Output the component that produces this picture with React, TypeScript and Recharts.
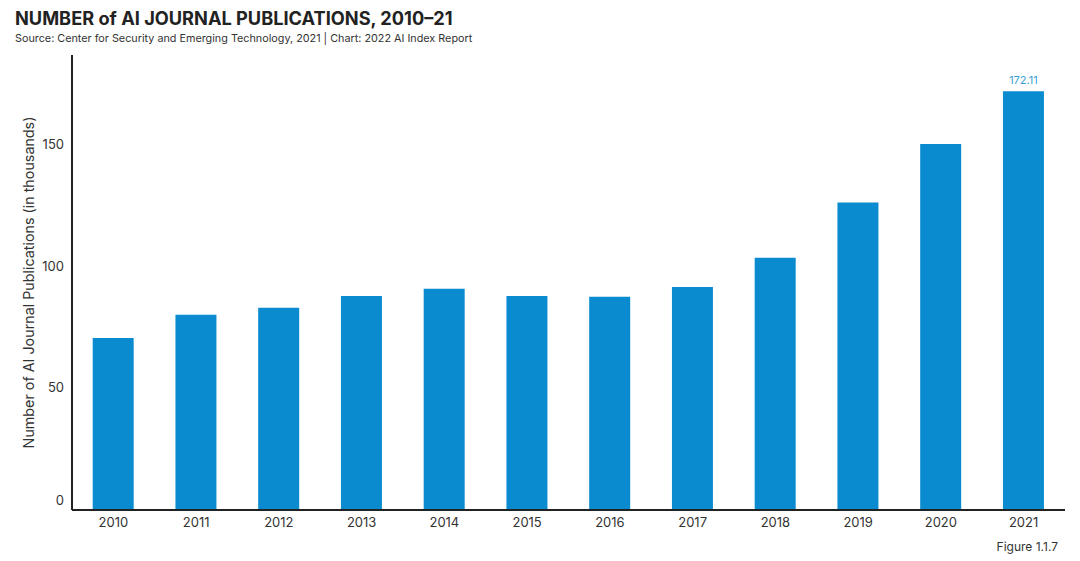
import { BarChart, Bar, XAxis, YAxis, LabelList, Label } from "recharts";

const years = ["2010", "2011", "2012", "2013", "2014", "2015", "2016", "2017", "2018", "2019", "2020", "2021"];
const publications = [70.7, 80.2, 83.1, 88.0, 90.9, 88.0, 87.6, 91.7, 103.7, 126.4, 150.4, 172.11];
const yTicks = [0, 50, 100, 150];

const data = years.map((year, i) => ({ year, value: publications[i] }));

const FONT = "Inter, 'Open Sans', sans-serif";
const BAR_COLOR = "#0a8bcf";

// the "0" label sits a bit above the baseline in the original
function YTick(props: any) {
  const { x, y, payload } = props;
  const shift = payload.value === 0 ? -9 : 0;
  return (
    <text x={x} y={y + shift} dy={4} textAnchor="end" fontSize={13} fill="#333" fontFamily={FONT}>
      {payload.value}
    </text>
  );
}

function LastLabel(props: any) {
  const { x, y, width, value, index } = props;
  if (index !== years.length - 1) return null;
  return (
    <text x={x + width / 2} y={y - 7} textAnchor="middle" fontSize={11} fill="#3a9fd8" fontFamily={FONT}>
      {value}
    </text>
  );
}

export default function App() {
  return (
    <div
      style={{
        position: "absolute",
        left: 0,
        top: 0,
        width: 1080,
        height: 561,
        background: "#fff",
        fontFamily: FONT,
      }}
    >
      <div style={{ position: "absolute", left: 15, top: 7, fontSize: 18.2, fontWeight: 700, color: "#222" }}>
        NUMBER of AI JOURNAL PUBLICATIONS, 2010–21
      </div>
      <div style={{ position: "absolute", left: 15, top: 32, fontSize: 10.8, color: "#333" }}>
        Source: Center for Security and Emerging Technology, 2021 | Chart: 2022 AI Index Report
      </div>
      <BarChart
        width={1080}
        height={561}
        data={data}
        margin={{ top: 55, right: 15, bottom: 21, left: 22 }}
        barCategoryGap="25%"
      >
        <XAxis
          dataKey="year"
          tickLine={false}
          axisLine={{ stroke: "#222", strokeWidth: 2 }}
          tick={{ fontSize: 13, fill: "#333", fontFamily: FONT }}
          tickSize={6}
          height={30}
        />
        <YAxis
          domain={[0, 187]}
          ticks={yTicks}
          tickLine={false}
          axisLine={{ stroke: "#222", strokeWidth: 2 }}
          tick={<YTick />}
          width={50}
        >
          <Label
            content={({ viewBox }: any) => {
              const cy = viewBox.y + viewBox.height / 2;
              return (
                <text
                  x={30}
                  y={cy}
                  transform={`rotate(-90, 30, ${cy})`}
                  textAnchor="middle"
                  dominantBaseline="middle"
                  fontSize={14.3}
                  fill="#333"
                  fontFamily={FONT}
                >
                  Number of AI Journal Publications (in thousands)
                </text>
              );
            }}
          />
        </YAxis>
        <Bar dataKey="value" fill={BAR_COLOR} isAnimationActive={false}>
          <LabelList dataKey="value" content={<LastLabel />} />
        </Bar>
      </BarChart>
      <div style={{ position: "absolute", right: 22, top: 539, fontSize: 12, color: "#333" }}>Figure 1.1.7</div>
    </div>
  );
}
